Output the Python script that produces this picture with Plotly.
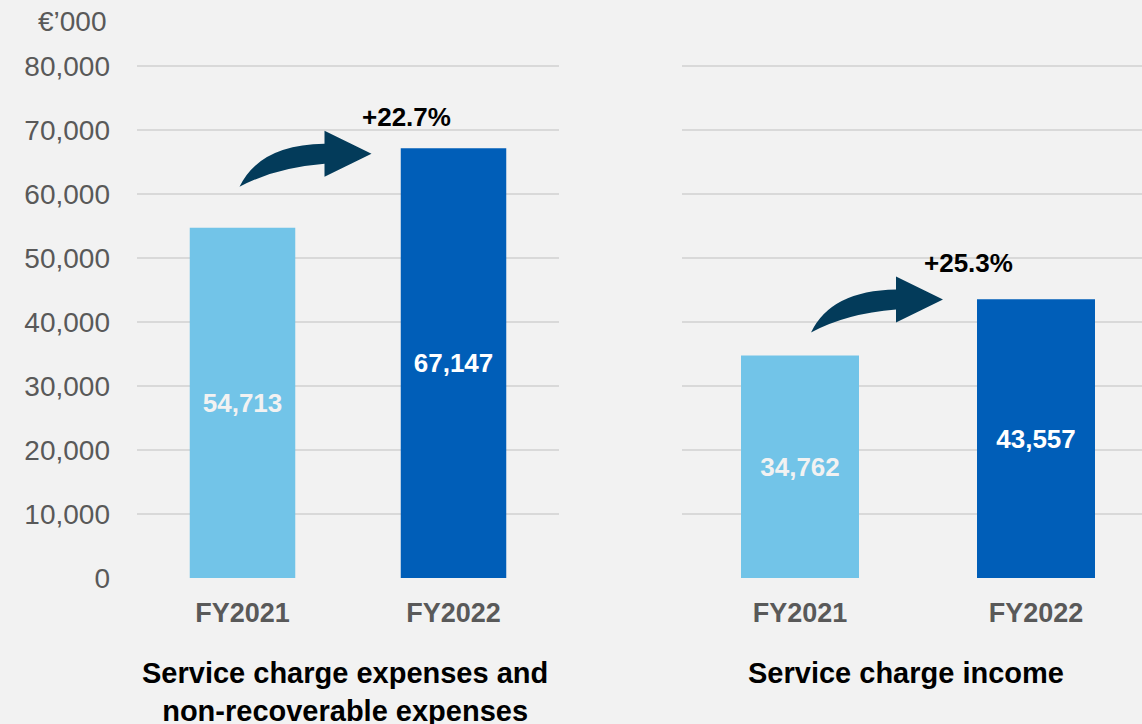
import plotly.graph_objects as go

# ---------------- data ----------------
categories = ["FY2021", "FY2022"]
expenses_values = [54713, 67147]
income_values = [34762, 43557]
growth_labels = ["+22.7%", "+25.3%"]
panel_titles = ["Service charge expenses and<br>non-recoverable expenses", "Service charge income"]
y_tick_values = [0, 10000, 20000, 30000, 40000, 50000, 60000, 70000, 80000]
y_tick_labels = ["0", "10,000", "20,000", "30,000", "40,000", "50,000", "60,000", "70,000", "80,000"]
unit_label = "\u20ac\u2019000"

# ---------------- style ----------------
W, H = 1142, 724
FONT = "Liberation Sans, Arial, sans-serif"
BG = "#f2f2f2"
GRID = "#d9d9d9"
LIGHT = "#72c4e8"
DARK = "#005eb8"
ARROW = "#033b5a"
TICK_COLOR = "#595959"

def px_x(p):
    return p / W

def px_y(p):
    return (H - p) / H

fig = go.Figure()

bar_colors = [LIGHT, DARK]
label_colors = ["#f2f2f2", "#ffffff"]

for xa, ya, vals in [("x", "y", expenses_values), ("x2", "y2", income_values)]:
    fig.add_trace(go.Bar(
        x=categories, y=vals, xaxis=xa, yaxis=ya,
        marker=dict(color=bar_colors, line=dict(width=0)),
        width=0.5,
        texttemplate="%{y:,}",
        textposition="inside",
        insidetextanchor="middle",
        textangle=0,
        textfont=dict(family=FONT, size=26, color=label_colors, weight="bold"),
        hoverinfo="skip",
        showlegend=False,
        cliponaxis=False,
    ))

Y_TOP = 80600  # slightly above 80,000 so the top gridline is drawn
y_px_per_unit = (578 - 66) / 80000
y_dom = [px_y(578), px_y(578 - Y_TOP * y_px_per_unit)]
common_y = dict(
    range=[0, Y_TOP], domain=y_dom, tickvals=y_tick_values, ticktext=y_tick_labels,
    showgrid=True, gridcolor=GRID, gridwidth=2, zeroline=False, showline=False,
    ticks="", fixedrange=True, automargin=False,
)
common_x = dict(
    showgrid=False, zeroline=False, showline=False, ticks="",
    tickfont=dict(family=FONT, size=27, color=TICK_COLOR, weight="bold"),
    ticklabelstandoff=16, fixedrange=True, automargin=False,
)

fig.update_layout(
    template="none",
    width=W, height=H,
    paper_bgcolor=BG, plot_bgcolor=BG,
    margin=dict(l=0, r=0, t=0, b=0, pad=0, autoexpand=False),
    font=dict(family=FONT),
    showlegend=False,
    xaxis=dict(domain=[px_x(137), px_x(559)], range=[-0.5, 1.5], anchor="y", **common_x),
    yaxis=dict(anchor="x", showticklabels=True,
               tickfont=dict(family=FONT, size=28, color=TICK_COLOR),
               ticklabelstandoff=26, **common_y),
    xaxis2=dict(domain=[px_x(682), 1.0], range=[-0.5, -0.5 + (W - 682) / 236], anchor="y2", **common_x),
    yaxis2=dict(anchor="x2", showticklabels=False, **common_y),
)

annotations = []
# unit label
annotations.append(dict(
    text=unit_label, xref="paper", yref="paper", x=px_x(109), y=px_y(22),
    xanchor="right", yanchor="middle", showarrow=False,
    font=dict(family=FONT, size=28, color=TICK_COLOR),
))
# panel titles
annotations.append(dict(
    text=panel_titles[0], xref="paper", yref="paper", x=px_x(345), y=px_y(655),
    xanchor="center", yanchor="top", showarrow=False,
    font=dict(family=FONT, size=29, color="#000000", weight="bold"),
))
annotations.append(dict(
    text=panel_titles[1], xref="paper", yref="paper", x=px_x(906), y=px_y(655),
    xanchor="center", yanchor="top", showarrow=False,
    font=dict(family=FONT, size=29, color="#000000", weight="bold"),
))
# growth labels, positioned relative to the FY2022 bar tops
growth_specs = [("x", "y", expenses_values, -47, 31), ("x2", "y2", income_values, -68, 36)]
for (xa, ya, vals, dx, dy), lab in zip(growth_specs, growth_labels):
    annotations.append(dict(
        text=lab, xref=xa, yref=ya, x=categories[1], y=vals[1],
        xshift=dx, yshift=dy, xanchor="center", yanchor="middle", showarrow=False,
        font=dict(family=FONT, size=26, color="#000000", weight="bold"),
    ))
fig.update_layout(annotations=annotations)

# curved arrows, anchored at the FY2021 bar tops (pixel-sized shapes)
def arrow_path(ox, oy):
    pts = [
        ("M", [(0, 0)]),
        ("Q", [(20, 42), (85, 43)]),
        ("L", [(85, 56)]),
        ("L", [(132, 33)]),
        ("L", [(85, 10)]),
        ("L", [(85, 23)]),
        ("Q", [(35, 19), (0, 0)]),
    ]
    s = ""
    for cmd, ps in pts:
        s += cmd + " " + " ".join(f"{x + ox},{y + oy}" for x, y in ps) + " "
    return s + "Z"

arrow_specs = [("x", "y", expenses_values, -3, 41), ("x2", "y2", income_values, 11, 23)]
for xa, ya, vals, ox, oy in arrow_specs:
    fig.add_shape(
        type="path", xref=xa, yref=ya,
        xsizemode="pixel", ysizemode="pixel",
        xanchor=categories[0], yanchor=vals[0],
        path=arrow_path(ox, oy),
        fillcolor=ARROW, line=dict(width=0), layer="above",
    )

fig.write_html(
    "out.html",
    config={"displayModeBar": False, "responsive": False},
    post_script="document.body.style.margin='0';document.body.style.background='#f2f2f2';document.body.style.overflow='hidden';",
)
